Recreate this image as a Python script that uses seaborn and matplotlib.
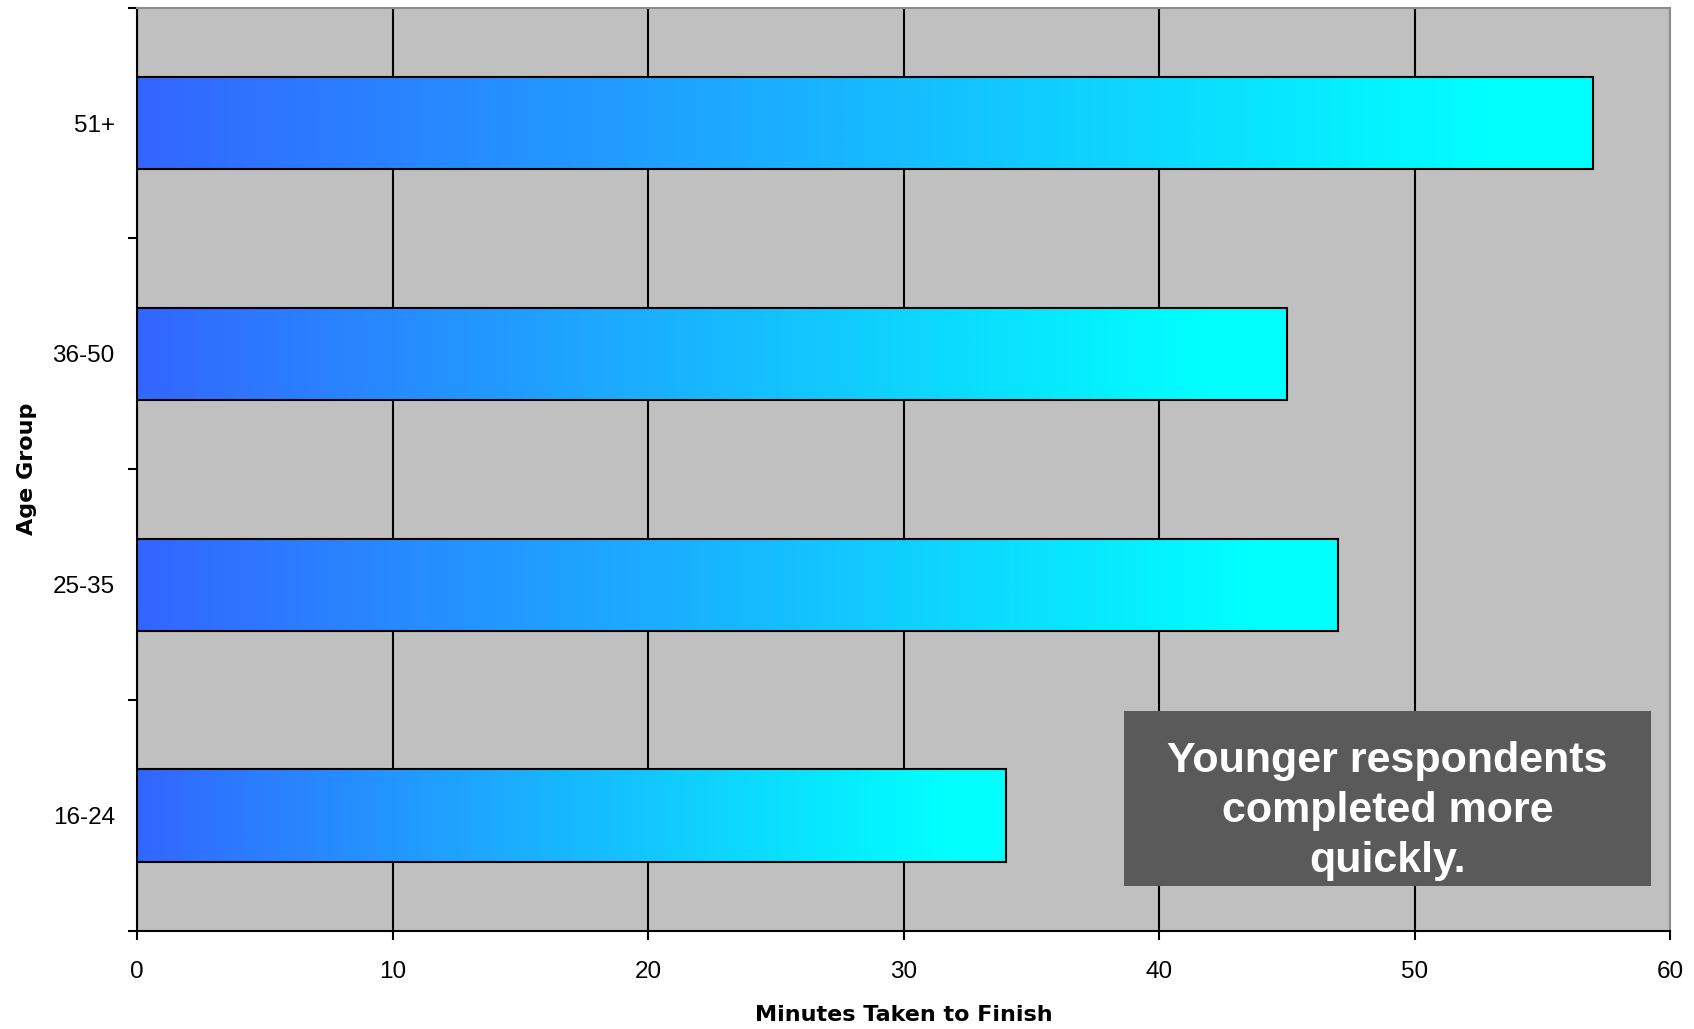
import numpy as np
import pandas as pd
import matplotlib
matplotlib.use("Agg")
import matplotlib.pyplot as plt
from matplotlib.patches import Rectangle
from matplotlib.colors import LinearSegmentedColormap
import seaborn as sns

# Completion time by age group
age_groups = ["51+", "36-50", "25-35", "16-24"]
minutes = [57, 45, 47, 34]
x_ticks = [0, 10, 20, 30, 40, 50, 60]
note = "Younger respondents\ncompleted more\nquickly."

df = pd.DataFrame({"Age Group": age_groups, "Minutes": minutes})

W, H = 1694, 1029
fig = plt.figure(figsize=(W / 100, H / 100), dpi=100)
fig.patch.set_facecolor("white")
ax = fig.add_axes([137 / W, 1 - 931 / H, (1670 - 137) / W, (931 - 7.6) / H])
ax.set_facecolor("#C0C0C0")

sns.barplot(data=df, x="Minutes", y="Age Group", order=age_groups, orient="h",
            width=0.4, color="#3366FF", saturation=1, edgecolor="black",
            linewidth=1.5, ax=ax, zorder=2)

# Horizontal blue-to-cyan fill inside each bar
fade = LinearSegmentedColormap.from_list(
    "bar_fade", [(0.0, "#3366FF"), (0.93, "#00FFFF"), (1.0, "#00FFFF")])
grad = np.linspace(0, 1, 512).reshape(1, -1)
for p in ax.patches:
    x0, y0 = p.get_x(), p.get_y()
    w, h = p.get_width(), p.get_height()
    im = ax.imshow(grad, cmap=fade, aspect="auto", interpolation="bilinear",
                   extent=(x0, x0 + w, y0 + h, y0), zorder=1.9)
    im.set_clip_path(p)
    p.set_facecolor("none")

ax.set_aspect("auto")
ax.set_xlim(0, 60)
ax.set_ylim(3.5, -0.5)

# Grid and spines
ax.set_axisbelow(True)
ax.set_xticks(x_ticks)
ax.xaxis.grid(True, color="black", linewidth=1.5)
ax.yaxis.grid(False)
for side in ("left", "bottom"):
    ax.spines[side].set_color("black")
    ax.spines[side].set_linewidth(1.5)
for side in ("top", "right"):
    ax.spines[side].set_color("#8C8C8C")
    ax.spines[side].set_linewidth(1.5)

tick_font = "Liberation Sans"
ax.set_xticklabels([str(v) for v in x_ticks], fontsize=17.5, family=tick_font)
ax.tick_params(axis="x", direction="out", length=6.5, width=1.5, pad=15,
               color="black")
ax.set_yticks(range(len(age_groups)))
ax.set_yticklabels(age_groups, fontsize=17.5, family=tick_font)
ax.set_yticks(np.arange(-0.5, len(age_groups), 1.0), minor=True)
ax.tick_params(axis="y", which="major", length=0, pad=16)
ax.tick_params(axis="y", which="minor", direction="out", length=6.5,
               width=1.5, color="black")

ax.set_xlabel("Minutes Taken to Finish", fontsize=16, fontweight="bold",
              family="DejaVu Sans", va="top")
ax.xaxis.set_label_coords(0.5, -0.0805)
ax.set_ylabel("Age Group", fontsize=16, fontweight="bold",
              family="DejaVu Sans")
ax.yaxis.set_label_coords(-0.0652, 0.5)

# Callout box
bx, by, bw, bh = 0.6438, 0.0487, 0.3438, 0.1895
ax.add_patch(Rectangle((bx, by), bw, bh, transform=ax.transAxes,
                       facecolor="#5A5A5A", edgecolor="none", zorder=5))
ax.text(bx + bw / 2, 0.130, note, transform=ax.transAxes, ha="center",
        va="center", multialignment="center", color="white", fontsize=31,
        fontweight="bold", family="Liberation Sans", linespacing=1.33,
        zorder=6)

fig.savefig("out.png", dpi=100)
